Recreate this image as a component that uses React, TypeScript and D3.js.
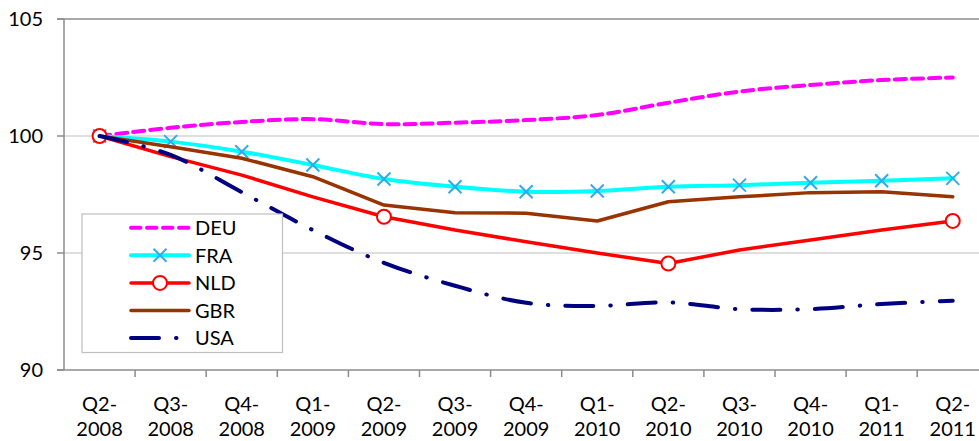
import React from "react";
import * as d3 from "d3";

const quarters = [
  "Q2-2008", "Q3-2008", "Q4-2008", "Q1-2009", "Q2-2009", "Q3-2009", "Q4-2009",
  "Q1-2010", "Q2-2010", "Q3-2010", "Q4-2010", "Q1-2011", "Q2-2011",
];
const deu = [100, 100.35, 100.6, 100.72, 100.51, 100.57, 100.68, 100.9, 101.42, 101.9, 102.18, 102.39, 102.5];
const fra = [100, 99.76, 99.33, 98.76, 98.16, 97.83, 97.62, 97.65, 97.83, 97.9, 98.0, 98.09, 98.19];
const nld = [100, 99.12, 98.33, 97.4, 96.55, 95.98, 95.48, 95.0, 94.55, 95.13, 95.56, 95.98, 96.37];
const gbr = [100, 99.54, 99.05, 98.26, 97.05, 96.72, 96.7, 96.37, 97.19, 97.4, 97.58, 97.62, 97.4];
const usa = [100, 99.19, 97.6, 95.98, 94.58, 93.6, 92.87, 92.74, 92.89, 92.6, 92.6, 92.82, 92.96];
const yTicks = [90, 95, 100, 105];
// NLD shows markers only on the Q2 points
const nldMarkerIdx = [0, 4, 8, 12];

const W = 979;
const H = 441;
const FONT = "Lato, Calibri, 'Liberation Sans', sans-serif";

type Series = {
  name: string;
  values: number[];
  color: string;
  width: number;
  dash?: string;
  smooth: boolean;
};

const series: Series[] = [
  { name: "DEU", values: deu, color: "#FF00FF", width: 4, dash: "11 6", smooth: true },
  { name: "FRA", values: fra, color: "#00FFFF", width: 4, smooth: true },
  { name: "NLD", values: nld, color: "#FF0000", width: 3.5, smooth: false },
  { name: "GBR", values: gbr, color: "#993300", width: 3.5, smooth: false },
  { name: "USA", values: usa, color: "#000080", width: 4, dash: "28 17 0.5 17", smooth: true },
];

const Cross = ({ cx, cy }: { cx: number; cy: number }) => {
  const s = 6.5;
  return (
    <g stroke="#33AAE8" strokeWidth={2}>
      <line x1={cx - s} y1={cy - s} x2={cx + s} y2={cy + s} />
      <line x1={cx - s} y1={cy + s} x2={cx + s} y2={cy - s} />
    </g>
  );
};

const Ring = ({ cx, cy }: { cx: number; cy: number }) => (
  <circle cx={cx} cy={cy} r={7} fill="#fff" stroke="#FF0000" strokeWidth={2} />
);

export default function App() {
  const left = 64;
  const step = 71.1;
  const x = d3
    .scaleBand<string>()
    .domain(quarters)
    .range([left, left + step * quarters.length]);
  const y = d3.scaleLinear().domain([90, 105]).range([370, 19]);
  const cx = (q: string) => (x(q) ?? 0) + x.bandwidth() / 2;

  const makeLine = (smooth: boolean) =>
    d3
      .line<number>()
      .x((_, i) => cx(quarters[i]))
      .y((d) => y(d))
      .curve(smooth ? d3.curveCatmullRom.alpha(0) : d3.curveLinear);

  const legendRows = series.map((s, i) => ({ ...s, ly: 227.7 + i * 27.6 }));

  return (
    <div style={{ position: "absolute", left: 0, top: 0 }}>
      <svg width={W} height={H} style={{ display: "block", background: "#fff" }}>
        {/* gridlines */}
        {yTicks
          .filter((t) => t !== 90 && t !== 105)
          .map((t) => (
            <line key={t} x1={left} x2={W} y1={y(t)} y2={y(t)} stroke="#D4D4D4" strokeWidth={1.5} />
          ))}
        <line x1={left - 7} x2={W} y1={y(105)} y2={y(105)} stroke="#8C8C8C" strokeWidth={1.5} />

        {/* axes */}
        <line x1={left} x2={left} y1={y(105)} y2={y(90)} stroke="#8C8C8C" strokeWidth={1.5} />
        <line x1={left - 7} x2={W} y1={y(90)} y2={y(90)} stroke="#8C8C8C" strokeWidth={1.5} />
        {yTicks.map((t) => (
          <g key={t}>
            <line x1={left - 7} x2={left} y1={y(t)} y2={y(t)} stroke="#8C8C8C" strokeWidth={1.5} />
            <text
              x={43}
              y={y(t)}
              dy="0.35em"
              textAnchor="end"
              fontFamily={FONT}
              fontSize={20}
              fill="#000"
            >
              {t}
            </text>
          </g>
        ))}
        {quarters.map((q) => (
          <g key={q}>
            <line
              x1={(x(q) ?? 0) + x.bandwidth()}
              x2={(x(q) ?? 0) + x.bandwidth()}
              y1={y(90)}
              y2={y(90) + 7}
              stroke="#8C8C8C"
              strokeWidth={1.5}
            />
            <text textAnchor="middle" fontFamily={FONT} fontSize={20} fill="#000">
              <tspan x={cx(q)} y={411}>
                {q.slice(0, 3)}
              </tspan>
              <tspan x={cx(q)} y={436}>
                {q.slice(3)}
              </tspan>
            </text>
          </g>
        ))}

        {/* series */}
        {series.map((s) => (
          <g key={s.name}>
            <path
              d={makeLine(s.smooth)(s.values) ?? ""}
              fill="none"
              stroke={s.color}
              strokeWidth={s.width}
              strokeDasharray={s.dash}
              strokeLinecap="round"
              strokeLinejoin="round"
            />
            {s.name === "FRA" &&
              s.values.map((v, i) => <Cross key={i} cx={cx(quarters[i])} cy={y(v)} />)}
            {s.name === "NLD" &&
              nldMarkerIdx.map((i) => <Ring key={i} cx={cx(quarters[i])} cy={y(s.values[i])} />)}
          </g>
        ))}

        {/* legend */}
        <rect x={82} y={214} width={200.5} height={138.5} fill="#fff" stroke="#BFBFBF" strokeWidth={1.2} />
        {legendRows.map((r) => (
          <g key={r.name}>
            <line
              x1={131}
              x2={189}
              y1={r.ly}
              y2={r.ly}
              stroke={r.color}
              strokeWidth={r.width}
              strokeDasharray={r.name === "DEU" ? "9.5 6.5" : r.dash}
              strokeLinecap="round"
            />
            {r.name === "FRA" && <Cross cx={160} cy={r.ly} />}
            {r.name === "NLD" && <Ring cx={160} cy={r.ly} />}
            <text x={195} y={r.ly} dy="0.36em" fontFamily={FONT} fontSize={20} fill="#000">
              {r.name}
            </text>
          </g>
        ))}
      </svg>
    </div>
  );
}
